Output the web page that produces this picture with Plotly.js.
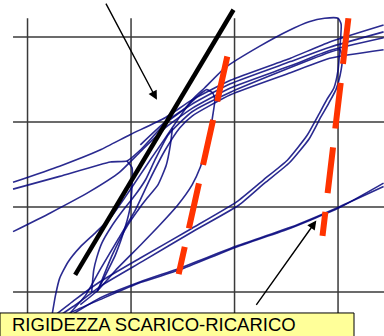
<!DOCTYPE html>
<html>
<head>
<meta charset="utf-8">
<script src="https://cdn.plot.ly/plotly-3.0.1.min.js"></script>
<style>html,body{margin:0;padding:0;background:#fff;}#chart{width:384px;height:336px;}</style>
</head>
<body>
<div id="chart"></div>
<script>
// Grid positions (data units: displacement / force in grid steps)
const gridX = [-1, 0, 1, 2];
const gridY = [0, 1, 2, 3];

// Hysteresis branches
const envX = [-0.76,-0.73,-0.69,-0.61,-0.49,-0.35,-0.20,-0.06,0.09,0.20,0.33,0.47,0.59,0.71,0.91,1.24,1.53,1.72,1.87,2.00,2.03,2.02,2.00,1.96,1.89,1.81,1.70,1.51,1.28,1.02,0.59,0.09,-0.30,-0.54,-0.73];
const envY = [-0.25,-0.04,0.16,0.35,0.53,0.69,0.87,1.11,1.38,1.58,1.81,2.06,2.26,2.40,2.64,2.89,3.08,3.18,3.22,3.22,3.15,2.91,2.61,2.40,2.26,2.08,1.84,1.55,1.32,1.06,0.75,0.40,0.12,-0.09,-0.27];

const cyc2X = [-0.38,-0.36,-0.33,-0.28,-0.20,-0.09,0.04,0.14,0.23,0.36,0.59,0.96,1.54,1.92,2.02,2.04,2.02,1.98,1.91,1.83,1.72,1.53,1.29,1.04,0.61,0.11,-0.28,-0.51,-0.69];
const cyc2Y = [0.00,0.26,0.41,0.58,0.75,0.94,1.14,1.32,1.55,1.85,2.12,2.35,2.64,2.82,2.85,2.73,2.55,2.38,2.22,2.05,1.80,1.52,1.28,1.02,0.72,0.36,0.08,-0.13,-0.28];

const b1X = [-1.14,-0.69,-0.30,-0.01,0.33,0.59,0.96,1.54,1.92,2.44];
const b1Y = [1.29,1.48,1.67,1.85,2.05,2.26,2.49,2.75,2.94,3.14];
const b2X = [-1.14,-0.69,-0.20,-0.04,0.09,0.33,0.59,0.96,1.54,1.92,2.44];
const b2Y = [1.21,1.36,1.53,1.54,1.67,1.98,2.21,2.45,2.71,2.88,3.06];
const b3X = [-1.14,-0.78,-0.40,-0.11,0.09,0.33,0.59,0.96,1.54,1.92,2.44];
const b3Y = [0.71,0.93,1.18,1.41,1.65,1.93,2.16,2.40,2.66,2.84,2.99];
const b4X = [-0.59,-0.44,-0.30,-0.13,0.04,0.18,0.33,0.47,0.59,0.96,1.54,1.92,2.44];
const b4Y = [-0.25,-0.04,0.26,0.61,0.96,1.32,1.67,1.93,2.07,2.32,2.58,2.75,2.85];

const s1X = [-0.04,0.01,0.01,-0.01,-0.05,-0.15,-0.33];
const s1Y = [1.54,1.46,1.26,0.99,0.79,0.44,0.00];
const s2X = [0.40,0.38,0.34,0.26,0.16,0.09,-0.03,-0.18,-0.32];
const s2Y = [1.93,1.73,1.49,1.26,1.11,1.00,0.79,0.44,0.02];
const midX = [0.09,0.33,0.52,0.65,0.73,0.79,0.81,0.79,0.76,0.72,0.67,0.59,0.45,0.28,0.09,-0.13,-0.32,-0.49];
const midY = [1.73,2.00,2.16,2.31,2.38,2.34,2.26,2.08,1.85,1.67,1.47,1.26,1.02,0.79,0.55,0.28,0.02,-0.15];

const relAX = [-0.73,-0.49,-0.30,0.09,0.47,1.02,1.54,2.01,2.44];
const relAY = [-0.33,-0.19,-0.09,0.11,0.26,0.53,0.75,0.99,1.28];
const relBX = [-0.59,-0.30,0.09,0.47,1.02,1.54,2.01,2.44];
const relBY = [-0.28,-0.07,0.12,0.28,0.54,0.76,1.00,1.24];

// Stiffness lines
const initX = [-0.54, 0.99];
const initY = [0.20, 3.32];
const unl1X = [0.93, 0.46];
const unl1Y = [2.77, 0.21];
const unl2X = [2.10, 1.85];
const unl2Y = [3.22, 0.66];

// Arrows [tailX, tailY, headX, headY]
const arrow1 = [-0.25, 3.41, 0.25, 2.26];
const arrow2 = [1.20, -0.17, 1.79, 0.84];

const labelText = 'RIGIDEZZA SCARICO-RICARICO';

const blue = {color: 'rgba(5,5,125,0.85)', width: 1.6, shape: 'spline', smoothing: 0.5};
const branches = [
  [envX, envY], [cyc2X, cyc2Y], [b1X, b1Y], [b2X, b2Y], [b3X, b3Y], [b4X, b4Y],
  [s1X, s1Y], [s2X, s2Y], [midX, midY], [relAX, relAY], [relBX, relBY]
];
const traces = branches.map(b => ({
  x: b[0], y: b[1], type: 'scatter', mode: 'lines', line: blue, hoverinfo: 'skip', showlegend: false
}));
traces.push({x: initX, y: initY, type: 'scatter', mode: 'lines', line: {color: '#000', width: 4.5}, showlegend: false, hoverinfo: 'skip'});
traces.push({x: unl1X, y: unl1Y, type: 'scatter', mode: 'lines', line: {color: '#ff3300', width: 6, dash: '46px,19px'}, showlegend: false, hoverinfo: 'skip'});
traces.push({x: unl2X, y: unl2Y, type: 'scatter', mode: 'lines', line: {color: '#ff3300', width: 6, dash: '46px,19px'}, showlegend: false, hoverinfo: 'skip'});

const shapes = [];
gridX.forEach(v => shapes.push({type: 'line', layer: 'below', xref: 'x', yref: 'y', x0: v, x1: v, y0: -0.52, y1: 3.22, line: {color: '#3a3a3a', width: 1.5}}));
gridY.forEach(v => shapes.push({type: 'line', layer: 'below', xref: 'x', yref: 'y', x0: -1.14, x1: 2.45, y0: v, y1: v, line: {color: '#3a3a3a', width: 1.5}}));
shapes.push({type: 'rect', layer: 'above', xref: 'paper', yref: 'paper', x0: 0, x1: 0.9219, y0: -0.01, y1: 0.0685, fillcolor: '#ffff99', line: {color: '#000', width: 1}});

const annotations = [
  {xref: 'x', yref: 'y', axref: 'x', ayref: 'y', x: arrow1[2], y: arrow1[3], ax: arrow1[0], ay: arrow1[1], text: '', showarrow: true, arrowhead: 2, arrowsize: 1.3, arrowwidth: 1.4, arrowcolor: '#000'},
  {xref: 'x', yref: 'y', axref: 'x', ayref: 'y', x: arrow2[2], y: arrow2[3], ax: arrow2[0], ay: arrow2[1], text: '', showarrow: true, arrowhead: 2, arrowsize: 1.3, arrowwidth: 1.4, arrowcolor: '#000'},
  {xref: 'paper', yref: 'paper', x: 10/384, y: 0.034, xanchor: 'left', yanchor: 'middle', text: labelText, showarrow: false, font: {family: 'Liberation Sans, Arial, sans-serif', size: 18.5, color: '#000'}}
];

const layout = {
  width: 384, height: 336,
  margin: {l: 0, r: 0, t: 0, b: 0, pad: 0},
  paper_bgcolor: '#fff', plot_bgcolor: '#fff',
  xaxis: {range: [-1.266, 2.444], visible: false, fixedrange: true},
  yaxis: {range: [-0.518, 3.435], visible: false, fixedrange: true},
  shapes: shapes,
  annotations: annotations,
  showlegend: false
};
Plotly.newPlot('chart', traces, layout, {staticPlot: true, displayModeBar: false});
</script>
</body>
</html>
